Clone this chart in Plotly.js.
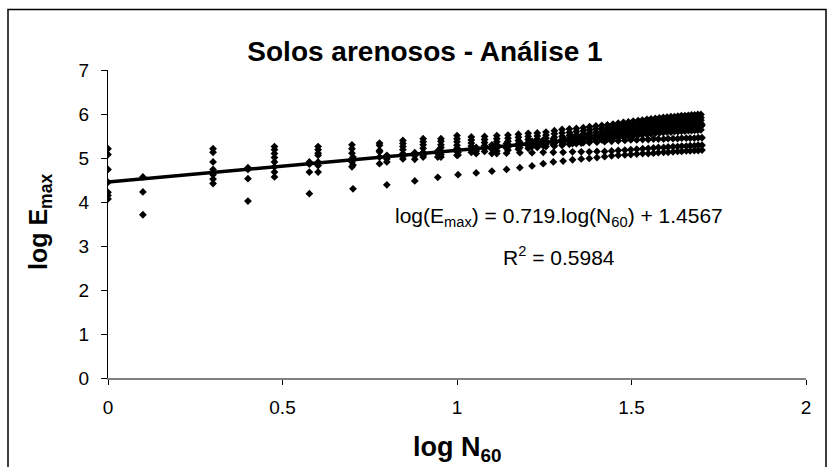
<!DOCTYPE html>
<html>
<head>
<meta charset="utf-8">
<script src="https://cdn.plot.ly/plotly-3.0.1.min.js"></script>
<style>html,body{margin:0;padding:0;background:#fff;}#chart{width:831px;height:467px;}</style>
</head>
<body>
<div id="chart"></div>
<script>
// Group A: columns at log N60 = log(N), N = 1..50
var xA = [0.000,0.301,0.477,0.602,0.699,0.778,0.845,0.903,0.954,1.000,
          1.041,1.079,1.114,1.146,1.176,1.204,1.230,1.255,1.279,1.301,
          1.322,1.342,1.362,1.380,1.398,1.415,1.431,1.447,1.462,1.477,
          1.491,1.505,1.519,1.531,1.544,1.556,1.568,1.580,1.591,1.602,
          1.613,1.623,1.633,1.643,1.653,1.663,1.672,1.681,1.690,1.699];
var yA = [
  [5.21,5.08,4.74,4.45,4.22,4.15,4.07],
  [5.21,5.13,4.91,4.74,4.62,4.52,4.42],
  [5.26,5.19,5.10,5.01,4.91,4.80,4.68,4.57],
  [5.26,5.19,5.11,5.06,4.91,4.83,4.68],
  [5.30,5.21,5.11,4.98,4.91,4.80],
  [5.34,5.29,5.17,5.14,5.02,4.87],
  [5.40,5.33,5.26,5.19,5.10,5.04,4.98],
  [5.44,5.37,5.30,5.22,5.13,5.06,5.02],
  [5.44,5.38,5.30,5.24,5.16,5.08,5.02],
  [5.51,5.44,5.37,5.29,5.22,5.15,5.06],
  [5.48,5.41,5.34,5.27,5.21,5.13],
  [5.49,5.42,5.35,5.28,5.22,5.15],
  [5.51,5.44,5.37,5.30,5.23,5.16,5.10],
  [5.52,5.45,5.38,5.31,5.25,5.18],
  [5.54,5.47,5.40,5.33,5.26,5.20],
  [5.56,5.49,5.42,5.35,5.28,5.22],
  [5.57,5.50,5.43,5.36,5.30,5.24],
  [5.59,5.52,5.45,5.38,5.32,5.26],
  [5.62,5.55,5.47,5.40,5.33,5.27],
  [5.65,5.57,5.49,5.42,5.35,5.29],
  [5.66,5.58,5.51,5.44,5.37,5.31],
  [5.67,5.60,5.53,5.46,5.39,5.33],
  [5.69,5.62,5.55,5.48,5.41,5.35],
  [5.71,5.64,5.57,5.50,5.43,5.37],
  [5.73,5.66,5.59,5.52,5.45,5.39],
  [5.74,5.67,5.60,5.53,5.47,5.41],
  [5.75,5.68,5.62,5.55,5.49,5.43],
  [5.77,5.70,5.64,5.57,5.51,5.45],
  [5.79,5.72,5.65,5.58,5.52,5.46],
  [5.81,5.74,5.67,5.60,5.54,5.48],
  [5.82,5.75,5.68,5.62,5.56,5.50],
  [5.84,5.77,5.70,5.64,5.57,5.51],
  [5.85,5.78,5.71,5.65,5.58,5.52],
  [5.86,5.79,5.73,5.66,5.60,5.53],
  [5.88,5.81,5.74,5.67,5.61,5.54],
  [5.89,5.82,5.75,5.69,5.62,5.55],
  [5.90,5.83,5.76,5.70,5.63,5.56],
  [5.91,5.84,5.77,5.71,5.64,5.57],
  [5.92,5.85,5.78,5.72,5.65,5.58],
  [5.93,5.86,5.79,5.73,5.66,5.59],
  [5.94,5.87,5.80,5.73,5.67,5.59],
  [5.94,5.87,5.81,5.74,5.67,5.60],
  [5.95,5.88,5.81,5.75,5.68,5.60],
  [5.96,5.89,5.82,5.75,5.69,5.61],
  [5.96,5.89,5.83,5.76,5.69,5.61],
  [5.97,5.90,5.83,5.77,5.70,5.62],
  [5.98,5.91,5.84,5.77,5.70,5.62],
  [5.98,5.91,5.85,5.78,5.71,5.63],
  [5.99,5.92,5.85,5.78,5.71,5.63],
  [5.99,5.92,5.86,5.79,5.72,5.64]
];
// Group B: columns at log N60 = log(1.26 N), N = 1..40
var xB = [0.100,0.401,0.577,0.702,0.799,0.879,0.945,1.003,1.055,1.100,
          1.142,1.180,1.215,1.247,1.276,1.304,1.331,1.356,1.379,1.401,
          1.423,1.443,1.462,1.481,1.498,1.515,1.532,1.548,1.563,1.577,
          1.592,1.605,1.619,1.632,1.644,1.657,1.668,1.680,1.691,1.702];
var yB = [
  [4.57,4.23,3.71],
  [4.78,4.74,4.53,4.02],
  [4.91,4.86,4.68,4.19],
  [5.02,4.95,4.84,4.30],
  [5.06,4.98,4.91,4.39],
  [5.12,5.05,4.97,4.48],
  [5.16,5.10,5.02,4.56],
  [5.20,5.13,5.07,4.62],
  [5.24,5.16,5.10,4.66],
  [5.30,5.20,5.10,4.70],
  [5.33,5.22,5.11,4.74],
  [5.36,5.24,5.12,4.78],
  [5.38,5.26,5.12,4.82],
  [5.41,5.28,5.13,4.87],
  [5.43,5.30,5.13,4.91],
  [5.46,5.32,5.13,4.93],
  [5.48,5.33,5.14,4.96],
  [5.50,5.34,5.14,4.98],
  [5.52,5.35,5.14,4.99],
  [5.54,5.36,5.15,5.01],
  [5.56,5.37,5.15,5.03],
  [5.57,5.38,5.16,5.05],
  [5.59,5.39,5.17,5.06],
  [5.60,5.40,5.18,5.07],
  [5.62,5.41,5.19,5.08],
  [5.63,5.41,5.20,5.09],
  [5.64,5.42,5.21,5.10],
  [5.65,5.42,5.22,5.10],
  [5.66,5.43,5.23,5.11],
  [5.67,5.43,5.24,5.12],
  [5.68,5.43,5.24,5.13],
  [5.69,5.44,5.25,5.13],
  [5.70,5.44,5.26,5.14],
  [5.71,5.44,5.26,5.15],
  [5.71,5.45,5.27,5.15],
  [5.72,5.45,5.27,5.16],
  [5.73,5.45,5.28,5.16],
  [5.73,5.45,5.28,5.17],
  [5.74,5.46,5.29,5.17],
  [5.75,5.46,5.29,5.18]
];
// Trend line end points (log N60, log Emax)
var trendX = [0, 1.699];
var trendY = [4.4567, 5.678];
var xTicks = [0, 0.5, 1, 1.5, 2];
var xTickText = ['0', '0.5', '1', '1.5', '2'];
var yTicks = [0, 1, 2, 3, 4, 5, 6, 7];

function flatten(xs, ys) {
  var px = [], py = [];
  for (var i = 0; i < xs.length; i++) {
    for (var j = 0; j < ys[i].length; j++) { px.push(xs[i]); py.push(ys[i][j]); }
  }
  return {x: px, y: py};
}
var A = flatten(xA, yA), B = flatten(xB, yB);
var px = A.x.concat(B.x), py = A.y.concat(B.y);

var FONT = 'Liberation Sans, Arial, sans-serif';
var L = 108, R = 25, T = 70, Bm = 89, W = 831, H = 467;
var pw = W - L - R, ph = H - T - Bm;
function pxX(v) { return (v - L) / pw; }
function pxY(v) { return (H - Bm - v) / ph; }

var traces = [
  {x: px, y: py, type: 'scatter', mode: 'markers',
   marker: {symbol: 'diamond', size: 6, color: '#000'}, hoverinfo: 'x+y', showlegend: false},
  {x: trendX, y: trendY, type: 'scatter', mode: 'lines',
   line: {color: '#000', width: 3.5}, hoverinfo: 'skip', showlegend: false}
];

var layout = {
  width: W, height: H,
  margin: {l: L, r: R, t: T, b: Bm, pad: 0},
  paper_bgcolor: '#fff', plot_bgcolor: '#fff',
  font: {family: FONT, size: 19, color: '#000'},
  showlegend: false,
  title: {text: '<b>Solos arenosos - Análise 1</b>', font: {family: FONT, size: 28, color: '#000'},
          x: 425 / W, xanchor: 'center', y: 1 - 51 / H, yanchor: 'middle', xref: 'container', yref: 'container'},
  xaxis: {range: [0, 2], tickvals: xTicks, ticktext: xTickText, showgrid: false, zeroline: false,
          showline: true, linecolor: '#808080', linewidth: 1.5, ticks: 'outside', ticklen: 5,
          tickcolor: '#000', tickwidth: 1, tickfont: {family: FONT, size: 19, color: '#000'},
          ticklabelstandoff: 7, fixedrange: true},
  yaxis: {range: [0, 7], tickvals: yTicks, showgrid: false, zeroline: false,
          showline: true, linecolor: '#000', linewidth: 1, ticks: 'outside', ticklen: 6,
          tickcolor: '#000', tickwidth: 1, tickfont: {family: FONT, size: 19, color: '#000'},
          ticklabelstandoff: 8, fixedrange: true},
  annotations: [
    {text: '<b>log E<sub>max</sub></b>', xref: 'paper', yref: 'paper', x: pxX(40), y: pxY(222),
     xanchor: 'center', yanchor: 'middle', textangle: -90, showarrow: false,
     font: {family: FONT, size: 25, color: '#000'}},
    {text: '<b>log N<sub>60</sub></b>', xref: 'paper', yref: 'paper', x: pxX(457), y: pxY(449),
     xanchor: 'center', yanchor: 'middle', showarrow: false,
     font: {family: FONT, size: 27, color: '#000'}},
    {text: 'log(E<sub>max</sub>) = 0.719.log(N<sub>60</sub>) + 1.4567', xref: 'paper', yref: 'paper',
     x: pxX(559), y: pxY(217), xanchor: 'center', yanchor: 'middle', showarrow: false,
     font: {family: FONT, size: 21, color: '#000'}},
    {text: 'R<sup>2</sup> = 0.5984', xref: 'paper', yref: 'paper',
     x: pxX(559), y: pxY(256), xanchor: 'center', yanchor: 'middle', showarrow: false,
     font: {family: FONT, size: 21, color: '#000'}}
  ],
  shapes: [
    {type: 'rect', xref: 'paper', yref: 'paper', x0: pxX(8), x1: pxX(826), y0: pxY(480), y1: pxY(9.5),
     line: {color: '#000', width: 1.5}, fillcolor: 'rgba(0,0,0,0)', layer: 'below'}
  ]
};

Plotly.newPlot('chart', traces, layout, {staticPlot: true, displayModeBar: false});
</script>
</body>
</html>
